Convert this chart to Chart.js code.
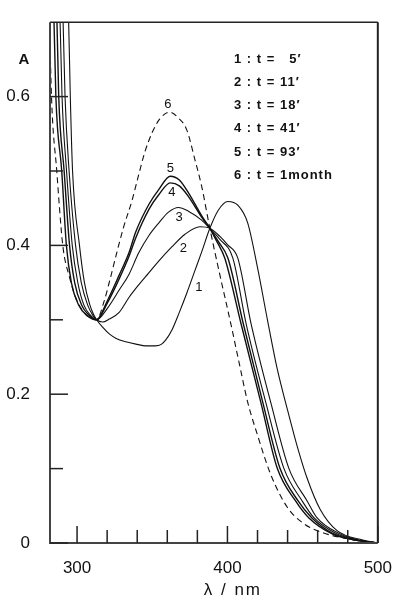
<!DOCTYPE html>
<html>
<head>
<meta charset="utf-8">
<script src="https://cdn.jsdelivr.net/npm/chart.js@4"></script>
<style>
  body { margin: 0; background: #fff; }
  canvas { display: block; }
</style>
</head>
<body>
<canvas id="grafica" width="399" height="597" style="width:399px;height:597px"></canvas>
<script>
// espectros, longitud de onda (nm) y absorbancia
const wl1 = [292, 294.4, 295.5, 297, 301.6, 304.9, 308.5, 311, 313, 317, 321.4, 326, 332.4, 340, 345.5, 352, 356, 359, 363, 368, 373, 378, 383, 388.3, 393.8, 400.3, 406.9, 413.5, 420, 426.6, 433, 439.8, 446.4, 453, 461.7, 472.7, 490, 500];
const abs1 = [0.78, 0.70, 0.60, 0.50, 0.40, 0.35, 0.32, 0.307, 0.30, 0.29, 0.281, 0.275, 0.2705, 0.267, 0.265, 0.265, 0.267, 0.273, 0.286, 0.31, 0.336, 0.364, 0.392, 0.423, 0.447, 0.459, 0.454, 0.43, 0.37, 0.30, 0.235, 0.18, 0.13, 0.087, 0.045, 0.017, 0.004, 0];

const wl2 = [290, 292, 294.7, 299, 302.8, 307, 310.5, 313, 317, 321.4, 328, 334.5, 341, 347.7, 354.3, 363, 371.8, 381.7, 388.3, 395, 400, 406.9, 415.7, 428.8, 440.9, 453, 459.5, 474, 487, 500];
const abs2 = [0.76, 0.60, 0.50, 0.40, 0.35, 0.32, 0.306, 0.30, 0.297, 0.301, 0.31, 0.33, 0.347, 0.363, 0.379, 0.398, 0.415, 0.425, 0.423, 0.412, 0.401, 0.383, 0.295, 0.189, 0.10, 0.0565, 0.034, 0.013, 0.004, 0];

const wl3 = [288, 290, 293, 296.8, 300.5, 304.5, 309, 313, 320, 328, 334.5, 341, 347.7, 354.3, 361, 367.4, 374, 382.8, 388.3, 395, 403.6, 412.4, 425.5, 437.6, 449.7, 457.5, 472, 486, 500];
const abs3 = [0.76, 0.60, 0.50, 0.40, 0.35, 0.32, 0.306, 0.30, 0.315, 0.34, 0.361, 0.39, 0.413, 0.43, 0.445, 0.451, 0.446, 0.434, 0.423, 0.408, 0.383, 0.295, 0.189, 0.10, 0.0565, 0.034, 0.013, 0.004, 0];

const wl4 = [286, 287.8, 291.4, 295, 298.4, 303, 308, 313, 320, 328, 334.5, 339, 347.7, 354.3, 362, 368, 374, 382.8, 388.3, 394, 400.3, 410.5, 423.5, 435, 447, 456, 470, 485, 500];
const abs4 = [0.76, 0.60, 0.50, 0.40, 0.35, 0.32, 0.306, 0.30, 0.322, 0.355, 0.385, 0.41, 0.448, 0.468, 0.484, 0.48, 0.466, 0.438, 0.423, 0.405, 0.383, 0.295, 0.189, 0.10, 0.0565, 0.034, 0.013, 0.004, 0];

const wl5 = [284, 285.9, 289.8, 292.9, 296.2, 301, 307, 313, 320, 328, 334.5, 339, 347.7, 354.3, 362, 368, 374, 382.8, 388.3, 393, 398.2, 409, 422.2, 433.2, 445.3, 454, 470, 485, 500];
const abs5 = [0.76, 0.60, 0.50, 0.40, 0.35, 0.32, 0.305, 0.30, 0.325, 0.36, 0.39, 0.418, 0.455, 0.475, 0.493, 0.488, 0.471, 0.44, 0.423, 0.405, 0.383, 0.295, 0.189, 0.10, 0.0565, 0.034, 0.012, 0.004, 0];

const wl6 = [281, 283, 286.5, 290.5, 295, 299, 303.8, 308.5, 313, 318, 322, 326, 331, 336.5, 341, 345, 350, 355, 361.5, 367, 373, 378.4, 382.8, 388.3, 395, 402, 408, 413.5, 420, 428.8, 439.8, 450.8, 461.7, 479, 500];
const abs6 = [0.76, 0.60, 0.50, 0.40, 0.357, 0.33, 0.312, 0.303, 0.30, 0.325, 0.355, 0.387, 0.425, 0.46, 0.495, 0.525, 0.552, 0.57, 0.579, 0.572, 0.555, 0.515, 0.48, 0.423, 0.36, 0.297, 0.24, 0.189, 0.145, 0.092, 0.048, 0.026, 0.015, 0.006, 0];

// numeros de curva y su sitio (nm, A)
const curvas = ["1", "2", "3", "4", "5", "6"];
const etiquetaWl = [381, 370.7, 367.9, 363, 362, 360.4];
const etiquetaAbs = [0.343, 0.396, 0.438, 0.471, 0.504, 0.5895];
const tiempos = ["1 : t =   5′", "2 : t = 11′", "3 : t = 18′", "4 : t = 41′", "5 : t = 93′", "6 : t = 1month"];

const xMayores = [300, 400, 500];
const xMenores = [320, 340, 360, 380, 420, 440, 460, 480];
const yMayores = [0, 0.2, 0.4, 0.6];
const yMenores = [0.1, 0.3, 0.5];

const wls = [wl1, wl2, wl3, wl4, wl5, wl6];
const abss = [abs1, abs2, abs3, abs4, abs5, abs6];

const fuente = '"Liberation Sans", Arial, sans-serif';

const marco = {
    id: 'marco',
    afterDatasetsDraw(chart) {
        const ctx = chart.ctx;
        const a = chart.chartArea;
        const x = chart.scales.x;
        const y = chart.scales.y;
        ctx.save();
        ctx.strokeStyle = '#222';
        ctx.lineCap = 'butt';

        // marco
        ctx.lineWidth = 1.5;
        ctx.beginPath();
        ctx.moveTo(a.left, a.top);
        ctx.lineTo(a.right, a.top);
        ctx.stroke();
        ctx.lineWidth = 2;
        ctx.beginPath();
        ctx.moveTo(a.right, a.top);
        ctx.lineTo(a.right, a.bottom);
        ctx.stroke();
        ctx.strokeStyle = '#444';
        ctx.beginPath();
        ctx.moveTo(a.left, a.top);
        ctx.lineTo(a.left, a.bottom);
        ctx.lineTo(a.right, a.bottom);
        ctx.stroke();

        // marcas hacia dentro
        ctx.strokeStyle = '#222';
        ctx.lineWidth = 1.5;
        const marcaX = (v, len) => {
            const px = x.getPixelForValue(v);
            ctx.beginPath();
            ctx.moveTo(px, a.bottom);
            ctx.lineTo(px, a.bottom - len);
            ctx.stroke();
        };
        const marcaY = (v, len) => {
            const py = y.getPixelForValue(v);
            ctx.beginPath();
            ctx.moveTo(a.left, py);
            ctx.lineTo(a.left + len, py);
            ctx.stroke();
        };
        xMayores.forEach(v => marcaX(v, 17));
        xMenores.forEach(v => marcaX(v, 13));
        yMayores.forEach(v => marcaY(v, 18));
        yMenores.forEach(v => marcaY(v, 13));

        ctx.fillStyle = '#111';
        ctx.textAlign = 'center';
        ctx.textBaseline = 'middle';

        // numeros de las curvas
        ctx.font = '13px ' + fuente;
        curvas.forEach((c, i) => {
            ctx.fillText(c, x.getPixelForValue(etiquetaWl[i]), y.getPixelForValue(etiquetaAbs[i]));
        });

        // titulos de ejes
        ctx.font = 'bold 15px ' + fuente;
        ctx.fillText('A', a.left - 26, a.top + 38);
        ctx.letterSpacing = '2px';
        ctx.font = '17px ' + fuente;
        ctx.fillText('λ / nm', x.getPixelForValue(403.6), 590);

        // leyenda de tiempos
        ctx.letterSpacing = '1px';
        ctx.font = 'bold 13px ' + fuente;
        ctx.textAlign = 'left';
        tiempos.forEach((t, i) => {
            ctx.fillText(t, a.left + 184, a.top + 37 + i * 23.2);
        });
        ctx.restore();
    }
};

const datasets = wls.map((wl, i) => ({
    label: curvas[i],
    data: wl.map((v, j) => ({ x: v, y: abss[i][j] })),
    borderColor: '#111',
    borderWidth: i === 4 || i === 3 ? 1.4 : 1.1,
    borderDash: i === 5 ? [6, 4] : [],
    pointRadius: 0,
    fill: false,
    cubicInterpolationMode: 'monotone'
}));

new Chart(document.getElementById('grafica').getContext('2d'), {
    type: 'line',
    data: { datasets: datasets },
    options: {
        responsive: false,
        animation: false,
        layout: { padding: { top: 13, right: 17, left: 0, bottom: 0 } },
        plugins: { legend: { display: false }, tooltip: { enabled: false } },
        scales: {
            x: {
                type: 'linear',
                min: 282,
                max: 500,
                grid: { display: false },
                border: { display: false },
                afterFit: s => { s.height = 54; },
                afterBuildTicks: s => { s.ticks = xMayores.map(v => ({ value: v })); },
                ticks: {
                    padding: 7,
                    color: '#111',
                    maxRotation: 0,
                    font: { family: fuente, size: 17 },
                    callback: v => String(v)
                }
            },
            y: {
                min: 0,
                max: 0.70,
                grid: { display: false },
                border: { display: false },
                afterFit: s => { s.width = 50; },
                afterBuildTicks: s => { s.ticks = yMayores.map(v => ({ value: v })); },
                ticks: {
                    padding: 12,
                    color: '#111',
                    font: { family: fuente, size: 17 },
                    callback: v => String(v)
                }
            }
        }
    },
    plugins: [marco]
});
</script>
</body>
</html>
